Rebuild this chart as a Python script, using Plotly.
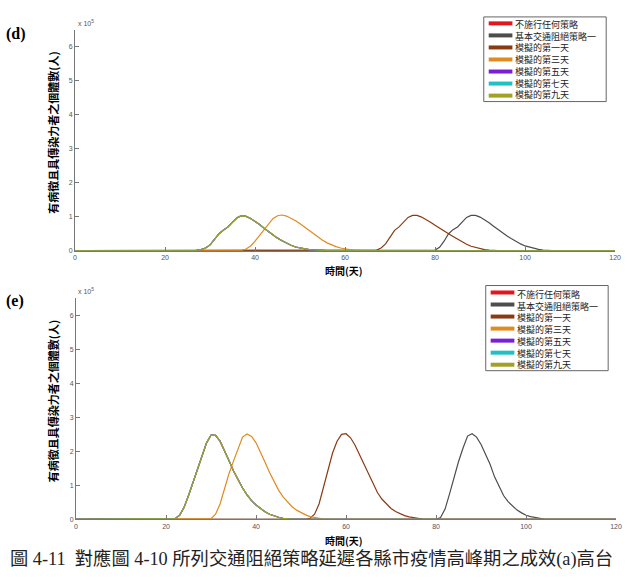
import plotly.graph_objects as go

W, H = 627, 582


def px(x):
    return x / W


def py(y):
    return 1 - y / H


# ---------------- data (values in units of 10^5 persons) ----------------
series_names = ["不施行任何策略", "基本交通阻絕策略一", "模擬的第一天", "模擬的第三天",
                "模擬的第五天", "模擬的第七天", "模擬的第九天"]
series_colors = ["#e3161d", "#4d4d4d", "#8a3a12", "#e08a1f", "#7b1fd6", "#21c0c4", "#a3a024"]

x_ticks = [0, 20, 40, 60, 80, 100, 120]
y_ticks = [0, 1, 2, 3, 4, 5, 6]

# panel (d)
d_days_early = [0, 26, 27, 28, 29, 30, 31, 32, 33, 34, 35, 36, 37, 38, 39, 40, 41, 42, 43, 44,
                45, 46, 47, 48, 49, 50, 51, 52, 53, 54, 55, 56, 120]
d_vals_early = [0, 0, 0.01, 0.03, 0.08, 0.17, 0.32, 0.50, 0.61, 0.70, 0.84, 0.97, 1.03, 1.01, 0.95,
                0.87, 0.77, 0.66, 0.56, 0.46, 0.37, 0.29, 0.22, 0.16, 0.11, 0.08, 0.05, 0.03, 0.02,
                0.01, 0.005, 0, 0]
d_days_day3 = [0, 36, 37, 38, 39, 40, 41, 42, 43, 44, 45, 46, 47, 48, 49, 50, 51, 52, 53, 54, 55,
               56, 57, 58, 59, 60, 61, 62, 63, 64, 120]
d_vals_day3 = [0, 0, 0.01, 0.05, 0.14, 0.28, 0.45, 0.62, 0.80, 0.95, 1.03, 1.05, 1.02, 0.96, 0.88,
               0.79, 0.69, 0.59, 0.49, 0.40, 0.31, 0.23, 0.17, 0.12, 0.08, 0.05, 0.03, 0.015, 0.005,
               0, 0]
d_days_day1 = [0, 66, 67, 68, 69, 70, 71, 72, 73, 74, 75, 76, 77, 78, 79, 80, 81, 82, 83, 84, 85,
               86, 87, 88, 89, 90, 91, 92, 93, 94, 120]
d_vals_day1 = [0, 0, 0.02, 0.08, 0.20, 0.40, 0.60, 0.70, 0.84, 0.98, 1.04, 1.04, 0.99, 0.92, 0.84,
               0.75, 0.66, 0.58, 0.50, 0.42, 0.34, 0.26, 0.19, 0.13, 0.09, 0.05, 0.03, 0.015,
               0.005, 0, 0]
d_days_basic = [0, 79, 80, 81, 82, 83, 84, 85, 86, 87, 88, 89, 90, 91, 92, 93, 94, 95, 96, 97, 98,
                99, 100, 101, 102, 103, 104, 105, 106, 120]
d_vals_basic = [0, 0, 0.02, 0.10, 0.28, 0.50, 0.62, 0.70, 0.85, 0.98, 1.04, 1.04, 0.99, 0.91, 0.82,
                0.72, 0.62, 0.52, 0.43, 0.35, 0.27, 0.20, 0.14, 0.10, 0.06, 0.04, 0.02, 0.01, 0, 0]

# panel (e)
e_days_early = [0, 21, 22, 23, 24, 25, 26, 27, 28, 29, 30, 31, 32, 33, 34, 35, 36, 37, 38, 39, 40,
                41, 42, 43, 44, 45, 46, 47, 48, 120]
e_vals_early = [0, 0, 0.02, 0.12, 0.35, 0.70, 1.08, 1.45, 1.85, 2.25, 2.48, 2.47, 2.30, 2.03, 1.72,
                1.42, 1.15, 0.92, 0.72, 0.55, 0.42, 0.31, 0.22, 0.15, 0.10, 0.06, 0.03, 0.01, 0, 0]
e_days_day3 = [0, 29, 30, 31, 32, 33, 34, 35, 36, 37, 38, 39, 40, 41, 42, 43, 44, 45, 46, 47, 48,
               49, 50, 51, 52, 53, 54, 55, 56, 120]
e_vals_day3 = [0, 0, 0.02, 0.15, 0.45, 0.90, 1.35, 1.72, 2.10, 2.42, 2.51, 2.44, 2.25, 1.98, 1.68,
               1.38, 1.10, 0.86, 0.66, 0.50, 0.37, 0.27, 0.19, 0.13, 0.08, 0.05, 0.02, 0.01, 0, 0]
e_days_day1 = [0, 51, 52, 53, 54, 55, 56, 57, 58, 59, 60, 61, 62, 63, 64, 65, 66, 67, 68, 69, 70,
               71, 72, 73, 74, 75, 76, 77, 78, 120]
e_vals_day1 = [0, 0, 0.03, 0.15, 0.45, 0.95, 1.50, 1.95, 2.30, 2.50, 2.52, 2.40, 2.18, 1.90, 1.60,
               1.30, 1.02, 0.78, 0.59, 0.44, 0.32, 0.23, 0.16, 0.11, 0.07, 0.045, 0.025, 0.01, 0, 0]
e_days_basic = [0, 80, 81, 82, 83, 84, 85, 86, 87, 88, 89, 90, 91, 92, 93, 94, 95, 96, 97, 98, 99,
                100, 101, 102, 103, 104, 105, 120]
e_vals_basic = [0, 0, 0.05, 0.30, 0.75, 1.25, 1.70, 2.10, 2.45, 2.52, 2.42, 2.20, 1.92, 1.62, 1.25,
                0.95, 0.70, 0.52, 0.38, 0.27, 0.19, 0.12, 0.08, 0.05, 0.03, 0.01, 0, 0]

panel_d = [(d_days_early, d_vals_early), (d_days_basic, d_vals_basic), (d_days_day1, d_vals_day1),
           (d_days_day3, d_vals_day3), (d_days_early, d_vals_early), (d_days_early, d_vals_early),
           (d_days_early, d_vals_early)]
panel_e = [(e_days_early, e_vals_early), (e_days_basic, e_vals_basic), (e_days_day1, e_vals_day1),
           (e_days_day3, e_vals_day3), (e_days_early, e_vals_early), (e_days_early, e_vals_early),
           (e_days_early, e_vals_early)]

y_title = "有病徵且具傳染力者之個體數(人)"
x_title = "時間(天)"
caption = "圖 4-11  對應圖 4-10 所列交通阻絕策略延遲各縣市疫情高峰期之成效(a)高台"

CJK = "Noto Sans CJK TC, Noto Sans CJK SC, sans-serif"

fig = go.Figure()
for (dx, dy), name, col in zip(panel_d, series_names, series_colors):
    fig.add_trace(go.Scatter(x=dx, y=dy, mode="lines", name=name, showlegend=False,
                             line=dict(color=col, width=1.2), xaxis="x", yaxis="y"))
for (dx, dy), name, col in zip(panel_e, series_names, series_colors):
    fig.add_trace(go.Scatter(x=dx, y=dy, mode="lines", name=name, showlegend=False,
                             line=dict(color=col, width=1.2), xaxis="x2", yaxis="y2"))

axis_common = dict(showline=True, linecolor="#777", linewidth=1, ticks="inside", ticklen=4,
                   tickcolor="#777", showgrid=False, zeroline=False,
                   tickfont=dict(family="Liberation Sans, Arial", size=7, color="#555"))

fig.update_layout(
    width=W, height=H, margin=dict(l=0, r=0, t=0, b=0),
    paper_bgcolor="white", plot_bgcolor="white", showlegend=False,
    xaxis=dict(domain=[px(74), px(621)], range=[0, 120], tickvals=x_ticks, anchor="y",
               **axis_common),
    yaxis=dict(domain=[py(252), py(30)], range=[0, 6.5], tickvals=y_ticks, anchor="x",
               **axis_common),
    xaxis2=dict(domain=[px(75), px(622)], range=[0, 120], tickvals=x_ticks, anchor="y2",
                **axis_common),
    yaxis2=dict(domain=[py(522), py(300)], range=[0, 6.5], tickvals=y_ticks, anchor="x2",
                **axis_common),
)

ann = []
shapes = []


def add_text(x, y, text, size, family=CJK, color="black", xanchor="center", yanchor="middle",
             angle=0, align="center"):
    ann.append(dict(x=px(x), y=py(y), xref="paper", yref="paper", text=text, showarrow=False,
                    xanchor=xanchor, yanchor=yanchor, textangle=angle, align=align,
                    borderpad=0, font=dict(family=family, size=size, color=color)))


LEG_FS = 9
LEG_LH = 12.1   # rendered line pitch of the multi-line legend text

for y0, axis_top, xl_y, label, label_y, leg in [
        (252, 30, 272, "(d)", 34, (488, 612, 17, 23.5)),
        (522, 300, 543, "(e)", 303, (490, 614, 287, 294.0))]:
    # panel label
    add_text(3, label_y, "<b>" + label + "</b>", 16, family="Liberation Serif, Times New Roman",
             xanchor="left")
    # multiplier
    add_text(76, axis_top - 7, "x 10<sup>5</sup>", 7, family="Liberation Sans, Arial",
             color="#555", xanchor="left")
    # y title
    add_text(52, (y0 + axis_top) / 2 - 8, "<b>" + y_title + "</b>", 11, angle=-90)
    # x title
    add_text(346, xl_y, "<b>" + x_title + "</b>", 10)
    # legend
    lx0, lx1, ly0, first = leg
    ly1 = first + 6 * LEG_LH + 6
    shapes.append(dict(type="rect", xref="paper", yref="paper", x0=px(lx0), x1=px(lx1),
                       y0=py(ly1), y1=py(ly0), line=dict(color="#666", width=1),
                       fillcolor="white", layer="above"))
    for i, col in enumerate(series_colors):
        yy = first + i * LEG_LH
        shapes.append(dict(type="line", xref="paper", yref="paper", x0=px(lx0 + 5),
                           x1=px(lx0 + 29), y0=py(yy), y1=py(yy),
                           line=dict(color=col, width=4), layer="above"))
    add_text(lx0 + 31, first - 6, "<br>".join(series_names), LEG_FS, color="#222",
             xanchor="left", yanchor="top", align="left")

# caption
add_text(314, 562, caption, 18.3, family="Liberation Serif, Noto Sans CJK TC", color="#222")

fig.update_layout(annotations=ann, shapes=shapes)
fig.write_html("out.html")
